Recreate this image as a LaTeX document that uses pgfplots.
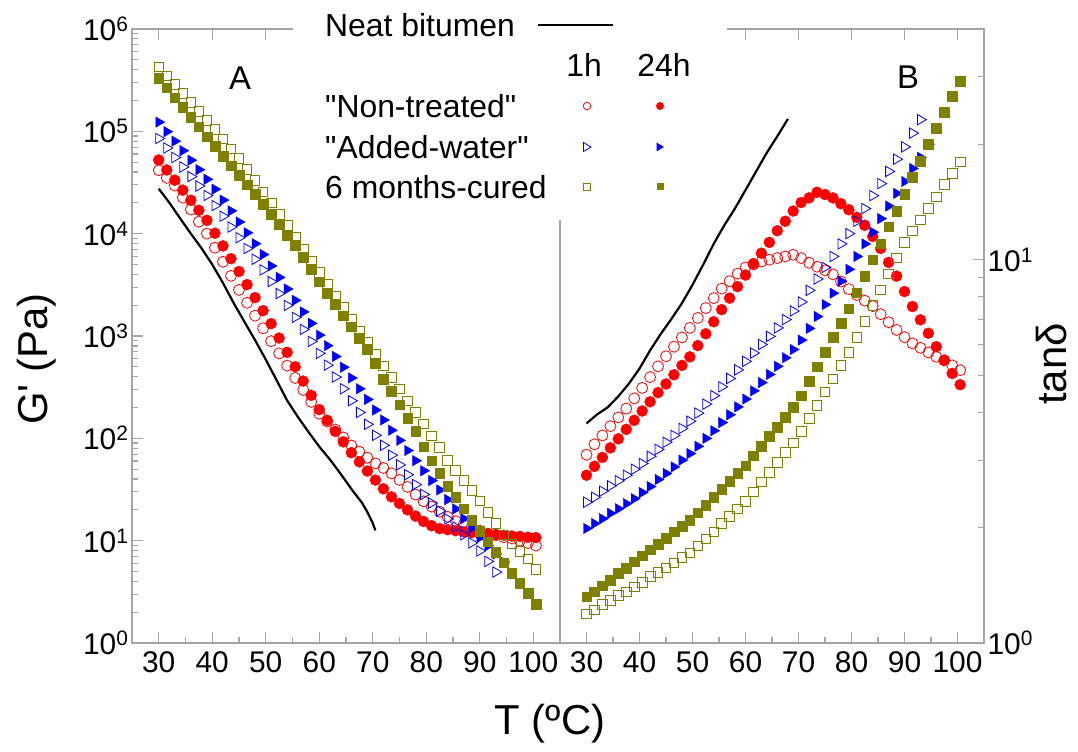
\documentclass[border=0pt]{standalone}
\usepackage{pgfplots}
\pgfplotsset{compat=1.18}
\usepackage{fontspec}
\setmainfont{Liberation Sans}
\definecolor{olv}{RGB}{128,128,0}
\definecolor{frm}{RGB}{165,165,165}
\tikzset{
  ro/.style={only marks, mark=o, mark size=5.5bp, red, mark options={line width=0.8bp}},
  rf/.style={only marks, mark=*, mark size=5.5bp, red},
  bo/.style={only marks, mark=triangle, mark size=6bp, blue, mark options={rotate=-90, line width=0.8bp}},
  bf/.style={only marks, mark=triangle*, mark size=6bp, blue, mark options={rotate=-90}},
  oo/.style={only marks, mark=square, mark size=4.8bp, olv, mark options={line width=0.8bp}},
  of/.style={only marks, mark=square*, mark size=4.8bp, olv},
  neat/.style={black, line width=2.2bp},
}
\begin{document}
\begin{tikzpicture}[x=1bp,y=1bp]
\useasboundingbox (0,0) rectangle (1078,752);
% ---------------- Panel A: G' ----------------
\begin{axis}[anchor=south west, at={(132bp,109bp)}, scale only axis, width=428bp, height=614bp,
  xmin=25, xmax=105, ymode=log, ymin=1, ymax=1e6,
  axis line style={frm, line width=1.2bp},
  every tick/.style={frm, line width=1.2bp},
  tick align=inside,
  major tick length=11bp, minor tick length=6bp,
  xtick={30,40,...,100}, minor xtick={35,45,...,95},
  xtick pos=bottom, ytick pos=left,
  tick label style={font=\fontsize{30}{30}\selectfont, black},
  /pgf/number format/assume math mode=true,
  xticklabel style={yshift=-5bp},
  ytick={1,10,100,1000,10000,100000,1000000},
  yticklabels={10\textsuperscript{0},10\textsuperscript{1},10\textsuperscript{2},10\textsuperscript{3},10\textsuperscript{4},10\textsuperscript{5},10\textsuperscript{6}},
  minor ytick={2,3,4,5,6,7,8,9,20,30,40,50,60,70,80,90,200,300,400,500,600,700,800,900,2000,3000,4000,5000,6000,7000,8000,9000,20000,30000,40000,50000,60000,70000,80000,90000,200000,300000,400000,500000,600000,700000,800000,900000},
]
\addplot[neat] coordinates {(30,2.75e4) (32,2.0e4) (34,1.41e4) (36,1.0e4) (38,7.2e3) (40,5.0e3) (42,3.3e3) (44,2.1e3) (46,1.38e3) (48,912) (50,589) (52,372) (54,234) (56,162) (58,115) (60,83) (62,62) (64,45) (66,32) (68,23.4) (69,19) (70,14.8) (70.5,12.6)};
\addplot[ro] coordinates {(30,4.17e4) (31.5,3.51e4) (33,2.95e4) (34.5,2.25e4) (36,1.72e4) (37.5,1.31e4) (39,1.00e4) (40.5,7.29e3) (42,5.31e3) (43.5,3.87e3) (45,2.82e3) (46.5,2.11e3) (48,1.58e3) (49.5,1.19e3) (51,891) (52.5,676) (54,513) (55.5,389) (57,297) (58.5,227) (60,174) (61.5,146) (63,122) (64.5,102) (66,85.1) (67.5,74.1) (69,64.6) (70.5,56.9) (72,51.3) (73.5,45.5) (75,39.2) (76.5,33.5) (78,28.2) (79.5,24.2) (81,21.5) (82.5,19.2) (84,17.1) (85.5,15.5) (87,14.5) (88.5,13.6) (90,12.5) (91.5,11.7) (93,11.3) (94.5,10.8) (96,10.5) (97.5,10.0) (99,9.48) (100.5,8.95)};
\addplot[rf] coordinates {(30,5.25e4) (31.5,4.19e4) (33,3.33e4) (34.5,2.66e4) (36,2.12e4) (37.5,1.69e4) (39,1.35e4) (40.5,1.01e4) (42,7.59e3) (43.5,5.69e3) (45,4.27e3) (46.5,3.18e3) (48,2.37e3) (49.5,1.77e3) (51,1.32e3) (52.5,955) (54,692) (55.5,501) (57,363) (58.5,263) (60,191) (61.5,150) (63,117) (64.5,92.3) (66,72.4) (67.5,58.9) (69,47.9) (70.5,39.1) (72,32.1) (73.5,26.8) (75,23.1) (76.5,20.0) (78,17.4) (79.5,15.4) (81,14.0) (82.5,13.1) (84,12.8) (85.5,12.5) (87,12.2) (88.5,12.0) (90,11.7) (91.5,11.6) (93,11.5) (94.5,11.3) (96,11.1) (97.5,11.0) (99,10.8) (100.5,10.7)};
\addplot[bo] coordinates {(30,8.51e4) (31.5,6.87e4) (33,5.55e4) (34.5,4.48e4) (36,3.61e4) (37.5,2.92e4) (39,2.36e4) (40.5,1.88e4) (42,1.48e4) (43.5,1.16e4) (45,9.12e3) (46.5,7.16e3) (48,5.62e3) (49.5,4.42e3) (51,3.40e3) (52.5,2.60e3) (54,1.99e3) (55.5,1.52e3) (57,1.16e3) (58.5,885) (60,676) (61.5,519) (63,397) (64.5,305) (66,233) (67.5,179) (69,137) (70.5,107) (72,85.5) (73.5,68.5) (75,55.0) (76.5,44.1) (78,35.3) (79.5,28.3) (81,23.3) (82.5,19.5) (84,16.3) (85.5,13.6) (87,11.4) (88.5,9.51) (90,7.94) (91.5,6.27) (93,4.93)};
\addplot[bf] coordinates {(30,1.23e5) (31.5,9.93e4) (33,8.02e4) (34.5,6.47e4) (36,5.22e4) (37.5,4.22e4) (39,3.40e4) (40.5,2.72e4) (42,2.13e4) (43.5,1.67e4) (45,1.30e4) (46.5,1.02e4) (48,7.98e3) (49.5,6.25e3) (51,4.84e3) (52.5,3.74e3) (54,2.88e3) (55.5,2.23e3) (57,1.72e3) (58.5,1.33e3) (60,1.02e3) (61.5,804) (63,631) (64.5,495) (66,389) (67.5,305) (69,240) (70.5,189) (72,151) (73.5,120) (75,95.5) (76.5,76.0) (78,60.5) (79.5,48.2) (81,38.7) (82.5,31.3) (84,25.2) (85.5,20.4) (87,16.4) (88.5,13.3) (90,10.7) (91.5,8.91) (93,7.41) (94.5,6.17)};
\addplot[oo] coordinates {(30,4.27e5) (31.5,3.49e5) (33,2.86e5) (34.5,2.34e5) (36,1.91e5) (37.5,1.57e5) (39,1.28e5) (40.5,1.04e5) (42,8.40e4) (43.5,6.76e4) (45,5.43e4) (46.5,4.27e4) (48,3.31e4) (49.5,2.57e4) (51,2.00e4) (52.5,1.55e4) (54,1.20e4) (55.5,9.16e3) (57,7.05e3) (58.5,5.42e3) (60,4.17e3) (61.5,3.21e3) (63,2.47e3) (64.5,1.90e3) (66,1.46e3) (67.5,1.12e3) (69,865) (70.5,665) (72,512) (73.5,394) (75,303) (76.5,233) (78,179) (79.5,138) (81,106) (82.5,81.3) (84,61.1) (85.5,48.6) (87,38.7) (88.5,30.8) (90,24.5) (91.5,19.0) (93,14.7) (94.5,11.4) (96,9.33) (97.5,7.85) (99,6.61) (100.5,5.25)};
\addplot[of] coordinates {(30,3.31e5) (31.5,2.66e5) (33,2.13e5) (34.5,1.71e5) (36,1.38e5) (37.5,1.11e5) (39,8.89e4) (40.5,7.14e4) (42,5.75e4) (43.5,4.63e4) (45,3.74e4) (46.5,3.01e4) (48,2.43e4) (49.5,1.95e4) (51,1.55e4) (52.5,1.22e4) (54,9.64e3) (55.5,7.76e3) (57,5.89e3) (58.5,4.47e3) (60,3.39e3) (61.5,2.63e3) (63,2.04e3) (64.5,1.58e3) (66,1.23e3) (67.5,955) (69,741) (70.5,540) (72,380) (73.5,288) (75,214) (76.5,158) (78,117) (79.5,83.2) (81,60.3) (82.5,45.7) (84,34.2) (85.5,26.5) (87,20.5) (88.5,15.9) (90,12.3) (91.5,9.73) (93,7.69) (94.5,6.08) (96,4.83) (97.5,3.85) (99,3.06) (100.5,2.40)};
\end{axis}
% ---------------- Panel B: tan delta ----------------
\begin{axis}[anchor=south west, at={(560bp,109bp)}, scale only axis, width=424bp, height=614bp,
  xmin=25, xmax=105, ymode=log, ymin=1, ymax=40,
  axis line style={frm, line width=1.2bp},
  every tick/.style={frm, line width=1.2bp},
  tick align=inside,
  major tick length=11bp, minor tick length=6bp,
  xtick={30,40,...,100}, minor xtick={35,45,...,95},
  xtick pos=bottom, ytick pos=right, yticklabel pos=right,
  tick label style={font=\fontsize{30}{30}\selectfont, black},
  /pgf/number format/assume math mode=true,
  xticklabel style={yshift=-5bp},
  ytick={1,10},
  yticklabels={10\textsuperscript{0},10\textsuperscript{1}},
  minor ytick={2,3,4,5,6,7,8,9,20,30},
]
\addplot[neat] coordinates {(30,3.74) (32,3.95) (34,4.12) (36,4.40) (38,4.75) (40,5.2) (42,5.8) (44,6.4) (46,7.0) (48,7.7) (50,8.6) (52,9.7) (54,11.0) (56,12.3) (58,13.6) (60,15.2) (62,17.0) (64,19.0) (66,21.0) (68,23.3)};
\addplot[ro] coordinates {(30,3.10) (31.5,3.30) (33,3.48) (34.5,3.68) (36,3.88) (37.5,4.09) (39,4.35) (40.5,4.63) (42,4.94) (43.5,5.27) (45,5.60) (46.5,5.93) (48,6.27) (49.5,6.64) (51,7.05) (52.5,7.48) (54,7.94) (55.5,8.41) (57,8.79) (58.5,9.20) (60,9.55) (61.5,9.72) (63,9.89) (64.5,10.0) (66,10.1) (67.5,10.2) (69,10.3) (70.5,10.1) (72,9.82) (73.5,9.59) (75,9.38) (76.5,9.16) (78,8.77) (79.5,8.38) (81,8.09) (82.5,7.82) (84,7.57) (85.5,7.21) (87,6.87) (88.5,6.56) (90,6.28) (91.5,6.05) (93,5.89) (94.5,5.73) (96,5.58) (97.5,5.46) (99,5.30) (100.5,5.15)};
\addplot[rf] coordinates {(30,2.74) (31.5,2.89) (33,3.05) (34.5,3.23) (36,3.41) (37.5,3.61) (39,3.81) (40.5,4.03) (42,4.26) (43.5,4.50) (45,4.74) (46.5,5.01) (48,5.30) (49.5,5.58) (51,5.97) (52.5,6.41) (54,6.89) (55.5,7.41) (57,7.94) (58.5,8.51) (60,9.12) (61.5,9.77) (63,10.4) (64.5,11.1) (66,11.9) (67.5,12.6) (69,13.4) (70.5,14.1) (72,14.5) (73.5,15.0) (75,14.8) (76.5,14.5) (78,14.0) (79.5,13.5) (81,12.9) (82.5,12.3) (84,11.5) (85.5,10.7) (87,9.84) (88.5,9.06) (90,8.26) (91.5,7.55) (93,6.97) (94.5,6.43) (96,5.93) (97.5,5.47) (99,5.05) (100.5,4.72)};
\addplot[bo] coordinates {(30,2.33) (31.5,2.40) (33,2.49) (34.5,2.57) (36,2.65) (37.5,2.74) (39,2.84) (40.5,2.94) (42,3.07) (43.5,3.20) (45,3.34) (46.5,3.48) (48,3.63) (49.5,3.79) (51,3.98) (52.5,4.20) (54,4.42) (55.5,4.66) (57,4.90) (58.5,5.16) (60,5.43) (61.5,5.71) (63,6.01) (64.5,6.31) (66,6.64) (67.5,6.98) (69,7.35) (70.5,7.76) (72,8.32) (73.5,8.91) (75,9.55) (76.5,10.2) (78,11.0) (79.5,11.7) (81,12.6) (82.5,13.6) (84,14.7) (85.5,15.8) (87,17.0) (88.5,18.3) (90,19.7) (91.5,21.4) (93,23.2)};
\addplot[bf] coordinates {(30,1.99) (31.5,2.05) (33,2.11) (34.5,2.18) (36,2.24) (37.5,2.31) (39,2.38) (40.5,2.47) (42,2.56) (43.5,2.67) (45,2.77) (46.5,2.88) (48,3.00) (49.5,3.12) (51,3.26) (52.5,3.42) (54,3.58) (55.5,3.76) (57,3.94) (58.5,4.13) (60,4.33) (61.5,4.55) (63,4.78) (64.5,5.02) (66,5.27) (67.5,5.55) (69,5.83) (70.5,6.17) (72,6.62) (73.5,7.11) (75,7.64) (76.5,8.18) (78,8.79) (79.5,9.44) (81,10.2) (82.5,11.0) (84,11.8) (85.5,12.8) (87,13.8) (88.5,14.9) (90,16.0) (91.5,17.3) (93,18.5) (94.5,20.0)};
\addplot[oo] coordinates {(30,1.19) (31.5,1.22) (33,1.26) (34.5,1.29) (36,1.33) (37.5,1.36) (39,1.40) (40.5,1.44) (42,1.49) (43.5,1.53) (45,1.57) (46.5,1.62) (48,1.67) (49.5,1.72) (51,1.79) (52.5,1.87) (54,1.95) (55.5,2.05) (57,2.14) (58.5,2.24) (60,2.34) (61.5,2.48) (63,2.63) (64.5,2.79) (66,2.96) (67.5,3.14) (69,3.33) (70.5,3.56) (72,3.85) (73.5,4.17) (75,4.52) (76.5,4.89) (78,5.30) (79.5,5.74) (81,6.28) (82.5,6.90) (84,7.59) (85.5,8.34) (87,9.18) (88.5,10.1) (90,11.1) (91.5,11.9) (93,12.7) (94.5,13.6) (96,14.6) (97.5,15.7) (99,16.8) (100.5,18.0)};
\addplot[of] coordinates {(30,1.32) (31.5,1.36) (33,1.41) (34.5,1.46) (36,1.52) (37.5,1.57) (39,1.63) (40.5,1.69) (42,1.75) (43.5,1.81) (45,1.88) (46.5,1.95) (48,2.02) (49.5,2.09) (51,2.19) (52.5,2.29) (54,2.40) (55.5,2.52) (57,2.64) (58.5,2.77) (60,2.90) (61.5,3.08) (63,3.26) (64.5,3.46) (66,3.66) (67.5,3.89) (69,4.12) (70.5,4.42) (72,4.82) (73.5,5.26) (75,5.74) (76.5,6.27) (78,6.84) (79.5,7.46) (81,8.20) (82.5,9.06) (84,10.0) (85.5,11.0) (87,12.2) (88.5,13.4) (90,14.8) (91.5,16.4) (93,18.1) (94.5,20.0) (96,22.0) (97.5,24.3) (99,26.7) (100.5,29.2)};
\end{axis}
% top ticks (majors only)
\foreach \xx in {158.75,212.25,265.75,319.25,372.75,426.25,479.75,533.25,586.5,639.5,692.5,745.5,798.5,851.5,904.5,957.5}
  {\draw[frm, line width=1.2bp] (\xx,723) -- (\xx,712);}
% legend background: hide top frame and upper part of the divider
\fill[white] (293,707) rectangle (727,752);
\fill[white] (555,532) rectangle (565,752);
% axis titles
\node[font=\fontsize{42}{42}\selectfont, anchor=base] at (550,17) {T (ºC)};
\node[font=\fontsize{42}{42}\selectfont, rotate=90] at (37,393) {G\textquotesingle{} (Pa)};
\node[font=\fontsize{42}{42}\selectfont, rotate=90] at (1052,388) {tanδ};
\node[font=\fontsize{33}{33}\selectfont] at (240,674) {A};
\node[font=\fontsize{33}{33}\selectfont] at (908,675) {B};
% legend
\begin{scope}[every node/.style={font=\fontsize{32}{32}\selectfont, inner sep=0pt}]
\node[anchor=west] at (325,727) {Neat bitumen};
\draw[black, line width=2.5bp] (538,727) -- (613,727);
\node at (584,687) {1h};
\node at (664,687) {24h};
\node[anchor=west] at (325,646) {\textquotedbl Non-treated\textquotedbl};
\node[anchor=west] at (325,605) {\textquotedbl Added-water\textquotedbl};
\node[anchor=west] at (325,565) {6 months-cured};
\draw[red, line width=0.8bp] (587,646) circle (3.8);
\fill[red] (660,646) circle (4);
\draw[blue, line width=0.8bp] (583.5,600.5) -- (583.5,609.5) -- (591,605) -- cycle;
\fill[blue] (656.5,600.5) -- (656.5,609.5) -- (664,605) -- cycle;
\draw[olv, line width=0.8bp] (583.5,561.5) rectangle (590.5,568.5);
\fill[olv] (656.5,561.5) rectangle (663.5,568.5);
\end{scope}
\end{tikzpicture}
\end{document}
